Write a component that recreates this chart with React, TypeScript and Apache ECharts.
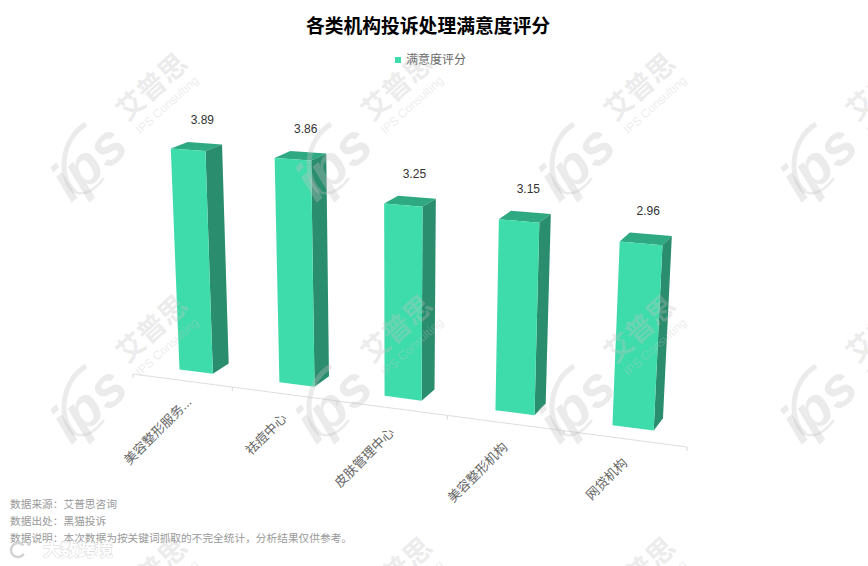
import React, { useEffect, useRef } from "react";
import * as echarts from "echarts";

const categories = ["美容整形服务...", "祛痘中心", "皮肤管理中心", "美容整形机构", "网贷机构"];
const values = [3.89, 3.86, 3.25, 3.15, 2.96];
const seriesName = "满意度评分";
const titleText = "各类机构投诉处理满意度评分";
const footerLines = [
  "数据来源：艾普思咨询",
  "数据出处：黑猫投诉",
  "数据说明：本次数据为按关键词抓取的不完全统计，分析结果仅供参考。",
];

const FONT = '"Liberation Sans", "Noto Sans CJK SC", sans-serif';
const FRONT = "#3FDCAB";
const TOP = "#2FA982";
const SIDE = "#298D6E";

// hidden flat grid: one band = 100px, one value unit = 100px
const BAND = 100;
const UNIT = 100;
const GRID_H = 400;

// perspective projection of (u: position along the axis, h: value, w: depth)
function project(u: number, h: number, w: number): [number, number] {
  const d = 1 - 0.02514 * u - 0.00994 * h + 0.0172 * w;
  return [
    (133 + 93.53 * u - 3.94 * h + 19.7 * w) / d,
    (374 + 3.36 * u - 58.6 * h - 3.95 * w) / d,
  ];
}

const HALF = 0.17;
const W0 = 0.85;
const W1 = 1.85;

function renderBar(params: any, api: any) {
  const flat = api.coord([api.value(0), api.value(1)]);
  const i = params.dataIndex;
  const c = flat[0] / BAND;
  const h = (GRID_H - flat[1]) / UNIT;
  const l = c - HALF;
  const r = c + HALF;
  const poly = (pts: number[][], fill: string) => ({
    type: "polygon",
    shape: { points: pts },
    style: { fill },
  });
  const children: any[] = [];
  // axis segment + ticks
  const a0 = project(i, 0, 0);
  const a1 = project(i + 1, 0, 0);
  children.push({
    type: "line",
    shape: { x1: a0[0], y1: a0[1], x2: a1[0], y2: a1[1] },
    style: { stroke: "#DEDEDE", lineWidth: 1 },
  });
  const tick = (p: number[]) => ({
    type: "line",
    shape: { x1: p[0], y1: p[1], x2: p[0], y2: p[1] + 4 },
    style: { stroke: "#D8D8D8", lineWidth: 1 },
  });
  children.push(tick(a0));
  if (i === categories.length - 1) children.push(tick(a1));
  // faces
  children.push(
    poly([project(l, h, W0), project(r, h, W0), project(r, h, W1), project(l, h, W1)], TOP),
    poly([project(r, 0, W0), project(r, 0, W1), project(r, h, W1), project(r, h, W0)], SIDE),
    poly([project(l, 0, W0), project(r, 0, W0), project(r, h, W0), project(l, h, W0)], FRONT),
  );
  // value label
  const t = project(c, h, W1);
  children.push({
    type: "text",
    x: t[0] - 2.5,
    y: t[1] - 23,
    style: {
      text: String(values[i].toFixed(2)),
      fill: "#333333",
      fontSize: 12,
      fontFamily: FONT,
      align: "center",
      verticalAlign: "middle",
    },
  });
  // category label
  const a = project(c, 0, 0);
  children.push({
    type: "text",
    x: a[0] + (i === 0 ? 7 : 0.5),
    y: a[1] + (i === 0 ? 19 : 22),
    rotation: Math.PI / 4,
    style: {
      text: categories[i],
      fill: "#666666",
      fontSize: 13,
      fontFamily: FONT,
      align: "right",
      verticalAlign: "middle",
    },
  });
  return { type: "group", children };
}

const WM = "rgba(195,195,195,0.33)";
const ANG = (42 * Math.PI) / 180;
const tileXs = [0, 245, 488, 730];
const tileYs = [0, 242, 484];

function tile(dx: number, dy: number) {
  const z = 20;
  return [
    {
      type: "text", z, x: 88 + dx, y: 162 + dy, rotation: ANG,
      style: { text: "ips", fill: WM, fontSize: 56, fontWeight: "bold", fontStyle: "italic", fontFamily: FONT, align: "center", verticalAlign: "middle" },
    },
    {
      type: "bezierCurve", z,
      shape: { x1: 86 + dx, y1: 124 + dy, cpx1: 60 + dx, cpy1: 140 + dy, cpx2: 58 + dx, cpy2: 178 + dy, x2: 75 + dx, y2: 192 + dy },
      style: { stroke: WM, lineWidth: 5, fill: "none" },
    },
    {
      type: "bezierCurve", z,
      shape: { x1: 75 + dx, y1: 192 + dy, cpx1: 85 + dx, cpy1: 196 + dy, cpx2: 95 + dx, cpy2: 190 + dy, x2: 104 + dx, y2: 178 + dy },
      style: { stroke: WM, lineWidth: 2.5, fill: "none" },
    },
    {
      type: "text", z, x: 152 + dx, y: 87 + dy, rotation: ANG,
      style: { text: "艾普思", fill: WM, fontSize: 28, fontWeight: "bold", fontFamily: FONT, align: "center", verticalAlign: "middle" },
    },
    {
      type: "text", z, x: 167 + dx, y: 105 + dy, rotation: ANG,
      style: { text: "IPS Consulting", fill: WM, fontSize: 12, fontFamily: FONT, align: "center", verticalAlign: "middle" },
    },
  ];
}

export default function App() {
  const ref = useRef<HTMLDivElement>(null);
  useEffect(() => {
    const chart = echarts.init(ref.current!, undefined, { renderer: "svg" });
    const graphics: any[] = [];
    tileYs.forEach((y) => tileXs.forEach((x) => graphics.push(...tile(x, y))));
    footerLines.forEach((text, i) => {
      graphics.push({
        type: "text", z: 30, x: 10, y: 504 + i * 17,
        style: { text, fill: "#999999", fontSize: 10.7, fontFamily: FONT, verticalAlign: "middle" },
      });
    });
    graphics.push(
      {
        type: "text", z: 31, x: 43, y: 550,
        style: { text: "大数跨境", fill: "#FFFFFF", stroke: "#D8D8D8", lineWidth: 1, fontSize: 17.5, fontWeight: "bold", fontFamily: FONT, verticalAlign: "middle" },
      },
      {
        type: "arc", z: 31,
        shape: { cx: 18, cy: 550, r: 7, startAngle: 0.6, endAngle: 5.6 },
        style: { stroke: "#D2D2D2", lineWidth: 2.5, fill: "none" },
      },
      { type: "circle", z: 31, shape: { cx: 29, cy: 544, r: 2 }, style: { fill: "#D8D8D8" } },
    );
    chart.setOption({
      animation: false,
      backgroundColor: "#FFFFFF",
      title: {
        text: titleText,
        left: 423,
        top: 12,
        textAlign: "center",
        textStyle: { fontSize: 18.8, fontWeight: "bold", color: "#000000", fontFamily: FONT },
      },
      legend: {
        data: [seriesName],
        left: 395,
        top: 54,
        padding: 0,
        itemWidth: 6,
        itemHeight: 6,
        icon: "rect",
        textStyle: { fontSize: 12, color: "#666666", fontFamily: FONT },
      },
      grid: { left: 0, top: 0, width: BAND * categories.length, height: GRID_H },
      xAxis: { type: "category", data: categories, show: false },
      yAxis: { type: "value", min: 0, max: GRID_H / UNIT, interval: 1, show: false },
      series: [
        {
          type: "custom",
          name: seriesName,
          data: categories.map((_, i) => [i, values[i]]),
          encode: { x: 0, y: 1 },
          clip: false,
          itemStyle: { color: FRONT },
          renderItem: renderBar,
        },
      ],
      graphic: graphics,
    });
    return () => chart.dispose();
  }, []);
  return (
    <div
      ref={ref}
      style={{ position: "absolute", left: 0, top: 0, width: 868, height: 566 }}
    />
  );
}
